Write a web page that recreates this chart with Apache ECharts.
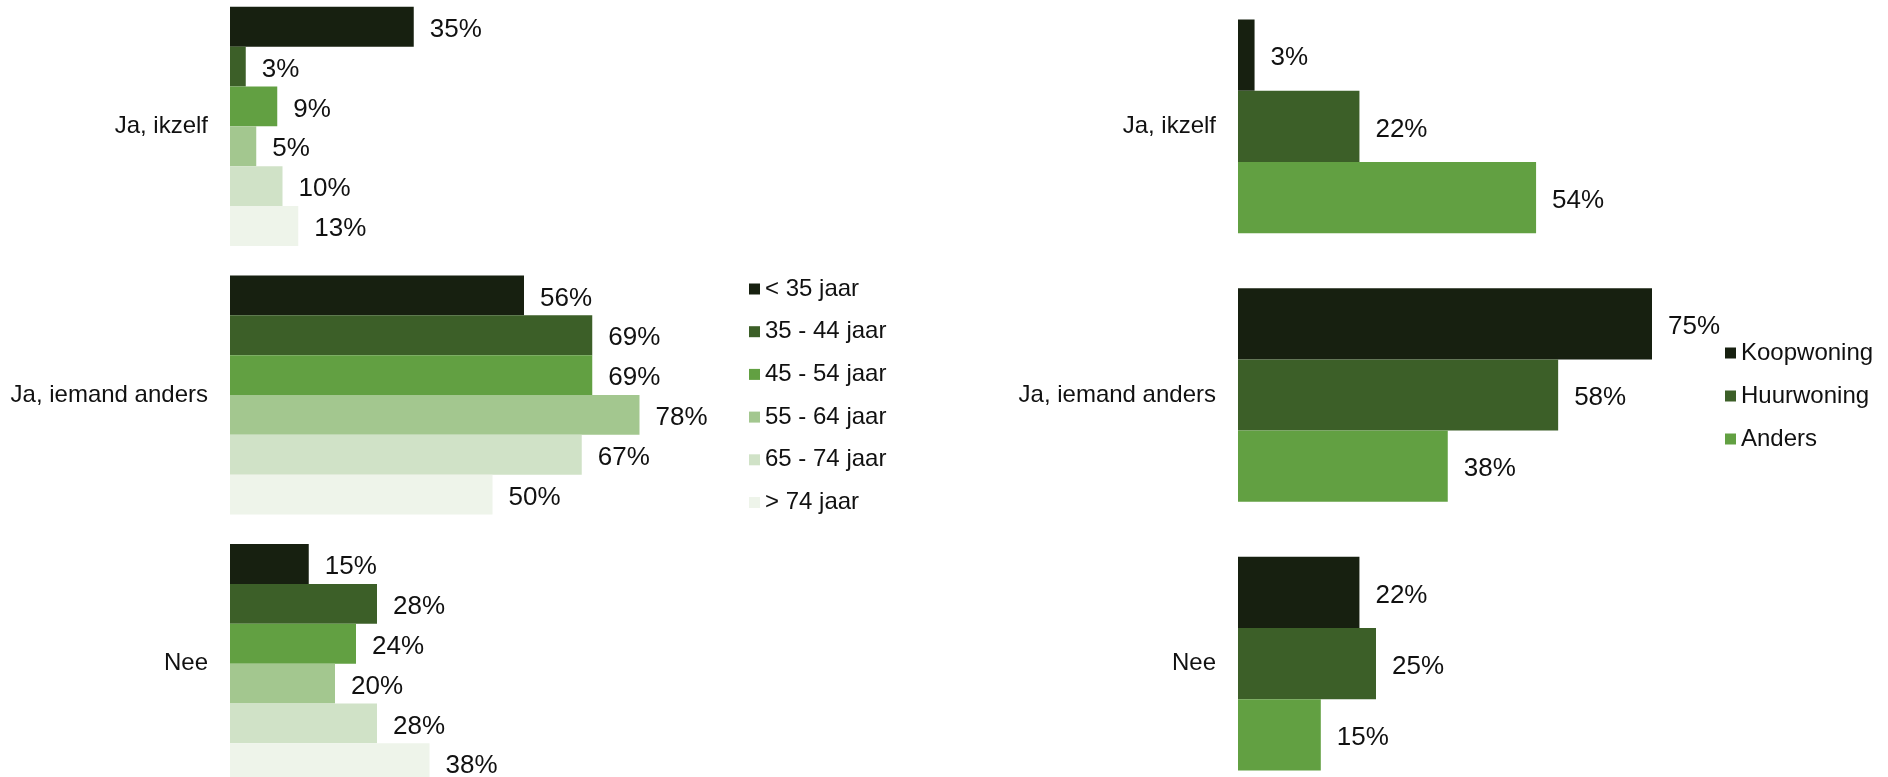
<!DOCTYPE html>
<html>
<head>
<meta charset="utf-8">
<script src="https://cdn.jsdelivr.net/npm/echarts@6/dist/echarts.min.js"></script>
<style>
html,body{margin:0;padding:0;background:#fff;overflow:hidden;width:1888px;height:777px;position:relative;}
#c{position:absolute;left:0;top:-8px;width:1888px;height:806px;}
</style>
</head>
<body>
<div id="c"></div>
<script>
const categories = ["Ja, ikzelf", "Ja, iemand anders", "Nee"];

const ageGroups = ["< 35 jaar", "35 - 44 jaar", "45 - 54 jaar", "55 - 64 jaar", "65 - 74 jaar", "> 74 jaar"];
const ageUnder35 = [35, 56, 15];
const age35to44 = [3, 69, 28];
const age45to54 = [9, 69, 24];
const age55to64 = [5, 78, 20];
const age65to74 = [10, 67, 28];
const ageOver74 = [13, 50, 38];
const ageValues = [ageUnder35, age35to44, age45to54, age55to64, age65to74, ageOver74];
const ageColors = ["#172010", "#3c5f28", "#62a042", "#a3c78f", "#d0e2c7", "#eef4ea"];

const housingTypes = ["Koopwoning", "Huurwoning", "Anders"];
const koopwoning = [3, 75, 22];
const huurwoning = [22, 58, 25];
const anders = [54, 38, 15];
const housingValues = [koopwoning, huurwoning, anders];
const housingColors = ["#172010", "#3c5f28", "#62a042"];

const FONT = "'Liberation Sans', Arial, sans-serif";
const TXT = "#111111";

function mkSeries(names, values, colors, gridIdx, catGap) {
  return names.map((n, i) => ({
    name: n,
    type: 'bar',
    xAxisIndex: gridIdx,
    yAxisIndex: gridIdx,
    data: values[i],
    barGap: '0%',
    barCategoryGap: catGap,
    itemStyle: { color: colors[i] },
    label: {
      show: true,
      position: 'right',
      distance: 16,
      offset: [0, 3],
      formatter: p => p.value + '%',
      fontFamily: FONT,
      fontSize: 26,
      color: TXT
    },
    emphasis: { disabled: true },
    animation: false
  }));
}

const chart = echarts.init(document.getElementById('c'), null, { renderer: 'canvas' });
const yAxisBase = {
  type: 'category',
  data: categories,
  inverse: true,
  axisLine: { show: false },
  axisTick: { show: false },
  axisLabel: { fontFamily: FONT, fontSize: 24, color: TXT, margin: 22 }
};
const xAxisBase = {
  type: 'value',
  min: 0,
  max: 100,
  show: false,
  splitLine: { show: false }
};

chart.setOption({
  animation: false,
  backgroundColor: '#ffffff',
  grid: [
    { left: 230, top: 0, width: 525, height: 806 },
    { left: 1238, top: 0, width: 552, height: 806 }
  ],
  xAxis: [
    Object.assign({ gridIndex: 0 }, xAxisBase),
    Object.assign({ gridIndex: 1 }, xAxisBase)
  ],
  yAxis: [
    Object.assign({ gridIndex: 0 }, yAxisBase),
    Object.assign({ gridIndex: 1 }, yAxisBase)
  ],
  legend: [
    {
      data: ageGroups,
      orient: 'vertical',
      left: 744,
      top: 280,
      itemWidth: 11,
      itemHeight: 11,
      itemGap: 18.7,
      icon: 'rect',
      textStyle: { fontFamily: FONT, fontSize: 24, color: TXT, lineHeight: 24 },
      selectedMode: false
    },
    {
      data: housingTypes,
      orient: 'vertical',
      left: 1720,
      top: 344,
      itemWidth: 11,
      itemHeight: 11,
      itemGap: 19,
      icon: 'rect',
      textStyle: { fontFamily: FONT, fontSize: 24, color: TXT, lineHeight: 24 },
      selectedMode: false
    }
  ],
  series: mkSeries(ageGroups, ageValues, ageColors, 0, '11%')
    .concat(mkSeries(housingTypes, housingValues, housingColors, 1, '20.5%'))
});
</script>
</body>
</html>
